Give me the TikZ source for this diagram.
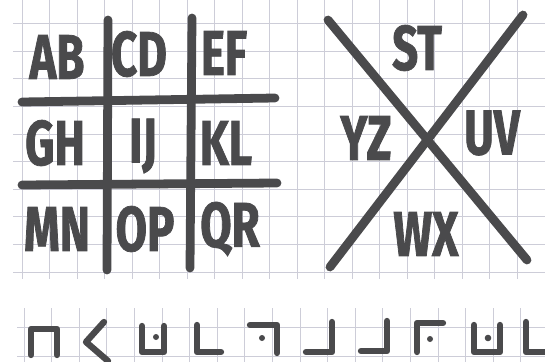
\documentclass[tikz,border=0pt]{standalone}
\usepackage{fontspec}
\newfontfamily\pigfont[FakeStretch=0.72,FakeBold=1.2]{Fira Sans}
\usetikzlibrary{positioning}

\definecolor{ink}{HTML}{4A4A4C}
\definecolor{paper}{HTML}{CDCDD8}

\begin{document}
\begin{tikzpicture}[
  x=0.02cm, y=-0.02cm,
  grid/.style={draw=paper, line width=0.5pt},
  bar/.style={draw=ink, line width=5pt, line cap=round},
  glyph/.style={draw=ink, line width=3.6pt, line cap=round, line join=round},
  dot/.style={fill=ink, draw=none},
  pair/.style={text=ink, inner sep=0pt, font=\pigfont\bfseries\fontsize{36}{36}\selectfont}
]
\useasboundingbox (0,0) rectangle (545,362);

% squared paper, upper part
\foreach \k in {0,...,9}
  \draw[grid] (13,23.6+27.6*\k) -- (545,23.6+27.6*\k);
\foreach \k in {0,...,18}
  \draw[grid] (22+27.5*\k,0) -- (22+27.5*\k,279);

% squared paper, lower strip
\foreach \yy in {327,356}
  \draw[grid] (17,\yy) -- (545,\yy);
\foreach \k in {0,...,18}
  \draw[grid] (24+27.6*\k,308) -- (24+27.6*\k,362);

% === GRID KEY (left) ===
\draw[bar] (108,20)  -- (107,270);
\draw[bar] (192,18)  -- (190,268);
\draw[bar] (22,102)  -- (275,98);
\draw[bar] (22,185)  -- (277,183);

\node[pair] (ab) at (57,57)   {AB};
\node[pair] (cd) at (139,54)  {CD};
\node[pair] (ef) at (224,53)  {EF};
\node[pair] (gh) at (55,143)  {GH};
\node[pair] (ij) at (143,146) {IJ};
\node[pair] (kl) at (226,143) {KL};
\node[pair] (mn) at (57,229)  {MN};
\node[pair] (op) at (145,229) {OP};
\node[pair] (qr) at (230,229) {QR};

% === X KEY (right) ===
\coordinate (xnw) at (328,20);
\coordinate (xse) at (527,260);
\coordinate (xne) at (523,15);
\coordinate (xsw) at (330,267);
\draw[bar] (xnw) -- (xse);
\draw[bar] (xne) -- (xsw);

\node[pair] (st) at (417,48)  {ST};
\node[pair] (yz) at (366,138) {YZ};
\node[pair] (uv) at (492,133) {UV};
\node[pair] (wx) at (426,234) {WX};

% === CIPHER TEXT (bottom row) ===
\draw[glyph] (31,355) -- (31,329) -- (57,329) -- (57,355);
\draw[glyph] (104,322) -- (86,342) -- (108,361);
\draw[glyph] (142,326) -- (142,352) -- (164,352) -- (164,326);
\fill[dot] (156,337) circle (3);
\draw[glyph] (197,325) -- (197,352) -- (221,352);
\draw[glyph] (250,325) -- (277,325) -- (277,353);
\fill[dot] (262,338) circle (3);
\draw[glyph] (306,352) -- (332,352) -- (332,322);
\draw[glyph] (361,351) -- (387,351) -- (387,321);
\draw[glyph] (417,352) -- (417,323) -- (443,323);
\fill[dot] (430,339) circle (3);
\draw[glyph] (474,325) -- (474,352) -- (500,352) -- (500,325);
\fill[dot] (488,338) circle (3.3);
\draw[glyph] (526,322) -- (526,352) -- (545,352);

\end{tikzpicture}
\end{document}
